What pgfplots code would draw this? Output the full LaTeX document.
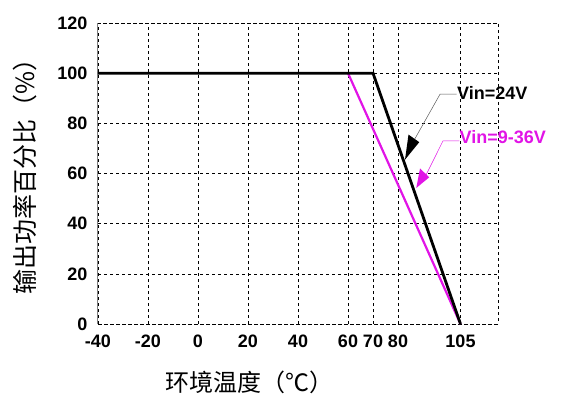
\documentclass[border=0pt]{standalone}
\usepackage{pgfplots}
\pgfplotsset{compat=1.18}
\usepackage{fontspec}
\setmainfont{Liberation Sans}
\newfontfamily\cjk{Noto Sans CJK SC}
\usetikzlibrary{arrows.meta}
\definecolor{mag}{RGB}{225,20,230}
\begin{document}
\begin{tikzpicture}
\useasboundingbox (-98pt,-72pt) rectangle (463pt,324pt);
\begin{axis}[
  scale only axis, width=400pt, height=301pt,
  xmin=-40, xmax=120, ymin=0, ymax=120,
  xtick={-40,-20,0,20,40,60,70,80,105},
  ytick={0,20,40,60,80,100,120},
  major tick length=0pt,
  grid=major,
  grid style={black, line width=0.6pt, dash pattern=on 3pt off 3pt},
  axis line style={black, line width=0.6pt, dash pattern=on 3pt off 3pt},
  /pgf/number format/assume math mode=true,
  ticklabel style={font=\bfseries\fontsize{18}{18}\selectfont},
  xticklabel style={yshift=-7pt},
  yticklabel style={xshift=-7pt},
  xlabel={\cjk\fontsize{24}{24}\selectfont 环境温度（℃）},
  xlabel style={at={(rel axis cs:0.378,0)}, anchor=center, yshift=-58pt},
  ylabel={\cjk\fontsize{25}{25}\selectfont 输出功率百分比（\%）},
  ylabel style={at={(rel axis cs:0,0.51)}, anchor=center, yshift=73pt},
  clip=false,
]
\draw[gray, line width=1pt] (rel axis cs:0,0) -- (rel axis cs:0,1);
\addplot[mag, line width=2.2pt] coordinates {(60,100) (105,0)};
\addplot[black, line width=2.8pt] coordinates {(-40,100) (70,100) (105,0)};
\draw[gray!70!black, line width=0.5pt] (axis cs:103.4,91.6) -- (axis cs:96.8,91.6) -- (axis cs:86,72.5);
\fill[black] (axis cs:82.8,65.5) -- (axis cs:84.2,75.5) -- (axis cs:88.5,72.5) -- cycle;
\draw[mag, line width=0.5pt] (axis cs:104.5,73) -- (axis cs:98,73) -- (axis cs:91,59);
\fill[mag] (axis cs:87.3,54.2) -- (axis cs:88.8,62) -- (axis cs:92.5,58.5) -- cycle;
\node[anchor=west, font=\bfseries\fontsize{18}{18}\selectfont, inner sep=0pt] at (axis cs:103.6,92.2) {Vin=24V};
\node[anchor=west, font=\bfseries\fontsize{18}{18}\selectfont, text=mag, inner sep=0pt] at (axis cs:104.6,74.6) {Vin=9-36V};
\end{axis}
\end{tikzpicture}
\end{document}
